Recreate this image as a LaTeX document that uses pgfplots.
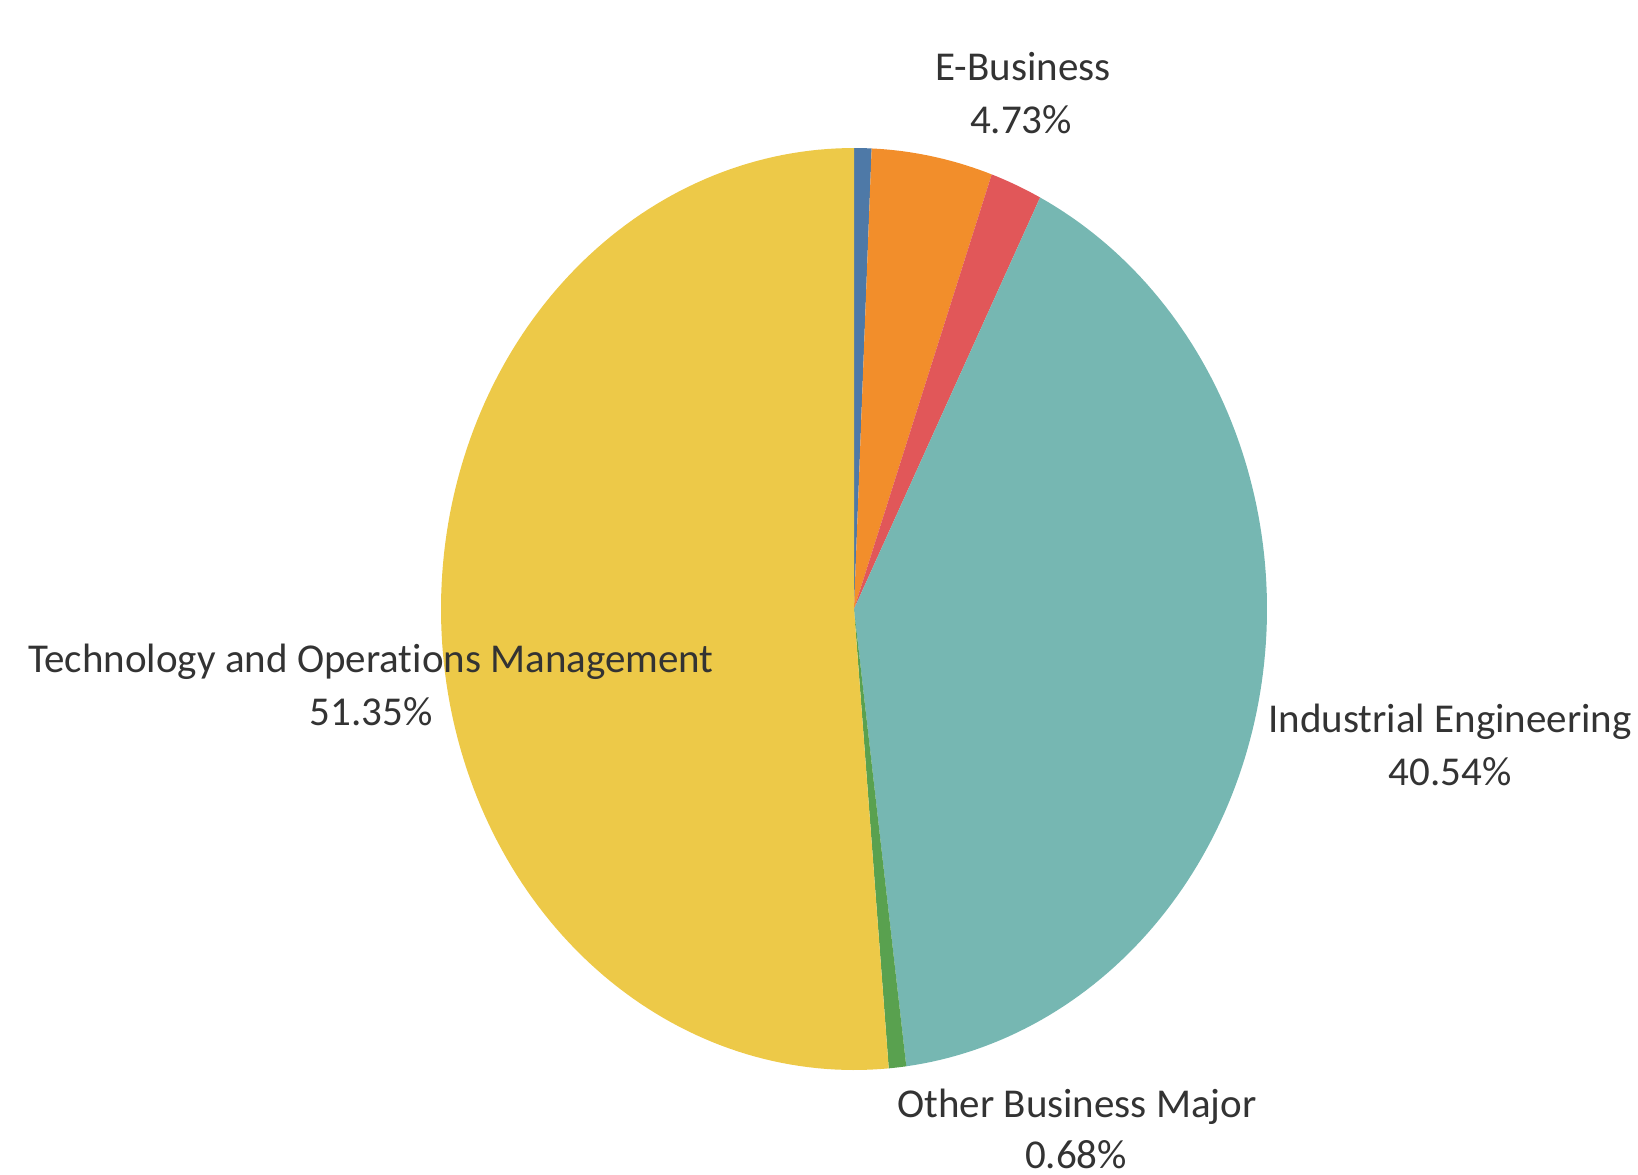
\documentclass[border=0pt]{standalone}
\usepackage{pgfplots}
\pgfplotsset{compat=1.18}
\usepackage{fontspec}
\setmainfont{Carlito}[Ligatures=NoCommon]
\definecolor{tblue}{HTML}{4E79A7}
\definecolor{torange}{HTML}{F28E2B}
\definecolor{tred}{HTML}{E15759}
\definecolor{tteal}{HTML}{76B7B2}
\definecolor{tgreen}{HTML}{59A14F}
\definecolor{tyellow}{HTML}{EDC948}
\definecolor{txt}{HTML}{333333}
\tikzset{lab/.style={font=\fontsize{20.5}{24}\selectfont, text=txt, anchor=base, inner sep=0pt}}
\begin{document}
\begin{tikzpicture}
\begin{axis}[
  scale only axis, width=819pt, height=587pt,
  xmin=0, xmax=1638, ymin=0, ymax=1174, y dir=reverse,
  hide axis, clip=false,
]
% slices: cumulative percentages (0.68, 4.73, 2.03, 40.54, 0.68, 51.35)
\addplot[fill=tblue, draw=none, domain=0:0.68, samples=8, variable=\t] ({854+413*sin(3.6*t)},{609-461*cos(3.6*t)}) -- (axis cs:854,609) -- cycle;
\addplot[fill=torange, draw=none, domain=0.68:5.41, samples=20, variable=\t] ({854+413*sin(3.6*t)},{609-461*cos(3.6*t)}) -- (axis cs:854,609) -- cycle;
\addplot[fill=tred, draw=none, domain=5.41:7.44, samples=10, variable=\t] ({854+413*sin(3.6*t)},{609-461*cos(3.6*t)}) -- (axis cs:854,609) -- cycle;
\addplot[fill=tteal, draw=none, domain=7.44:47.98, samples=120, variable=\t] ({854+413*sin(3.6*t)},{609-461*cos(3.6*t)}) -- (axis cs:854,609) -- cycle;
\addplot[fill=tgreen, draw=none, domain=47.98:48.66, samples=8, variable=\t] ({854+413*sin(3.6*t)},{609-461*cos(3.6*t)}) -- (axis cs:854,609) -- cycle;
\addplot[fill=tyellow, draw=none, domain=48.66:100, samples=150, variable=\t] ({854+413*sin(3.6*t)},{609-461*cos(3.6*t)}) -- (axis cs:854,609) -- cycle;
% labels
\node[lab] at (axis cs:1023,80) {E-Business};
\node[lab] at (axis cs:1021,133) {4.73\%};
\node[lab] at (axis cs:1450,732) {Industrial Engineering};
\node[lab] at (axis cs:1450,785) {40.54\%};
\node[lab] at (axis cs:371,672) {Technology and Operations Management};
\node[lab] at (axis cs:371,725) {51.35\%};
\node[lab] at (axis cs:1077,1117) {Other Business Major};
\node[lab] at (axis cs:1076,1168) {0.68\%};
\end{axis}
\pgfresetboundingbox
\path (0,0) rectangle (819pt,587pt);
\end{tikzpicture}
\end{document}
